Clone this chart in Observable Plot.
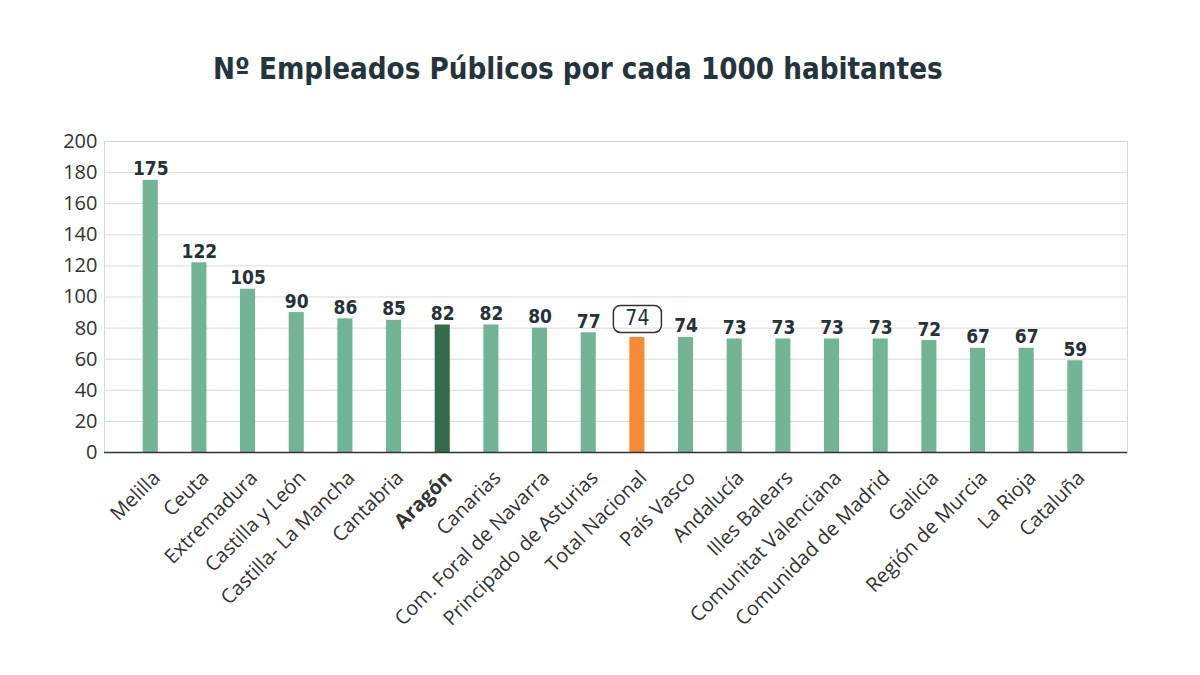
<!DOCTYPE html>
<html><head><meta charset="utf-8">
<script src="https://cdn.jsdelivr.net/npm/d3@7"></script>
<script src="https://cdn.jsdelivr.net/npm/@observablehq/plot@0.6"></script>
<style>
body{margin:0;background:#fff;width:1200px;height:675px;overflow:hidden;font-family:"Open Sans",sans-serif}
#title{height:110px;position:relative}
#title span{position:absolute;left:213px;top:55px;font-family:"DejaVu Sans Condensed","DejaVu Sans",sans-serif;font-weight:bold;font-size:32px;color:#24343c;white-space:nowrap;line-height:1}
</style>
</head><body>
<div id="title"><span>Nº Empleados Públicos por cada 1000 habitantes</span></div>
<div id="chart"></div>
<script>
const categories = ["Melilla","Ceuta","Extremadura","Castilla y León","Castilla- La Mancha","Cantabria","Aragón","Canarias","Com. Foral de Navarra","Principado de Asturias","Total Nacional","País Vasco","Andalucía","Illes Balears","Comunitat Valenciana","Comunidad de Madrid","Galicia","Región de Murcia","La Rioja","Cataluña"];
const values = [175,122,105,90,86,85,82,82,80,77,74,74,73,73,73,73,72,67,67,59];
const highlight = "Aragón";
const national = "Total Nacional";
const yTicks = [0,20,40,60,80,100,120,140,160,180,200];
const colors = {base:"#72b596", highlight:"#336b4c", national:"#f68b33"};

const data = categories.map((c,i)=>({cat:c, value:values[i]}));
const colorOf = d => d.cat===highlight ? colors.highlight : d.cat===national ? colors.national : colors.base;

const plot = Plot.plot({
  width:1200, height:565,
  marginLeft:104, marginRight:73, marginTop:31, marginBottom:223,
  style:{fontFamily:"'Open Sans',sans-serif", color:"#333"},
  x:{domain:categories, paddingInner:0.69, paddingOuter:0, round:false, insetLeft:38.7, insetRight:44.6, axis:null},
  y:{domain:[0,200], axis:null},
  color:{type:"identity"},
  marks:[
    Plot.gridY(yTicks, {stroke:"#d9d9d9", strokeOpacity:1, strokeWidth:1}),
    Plot.frame({stroke:"#d9d9d9"}),
    Plot.axisY(yTicks, {tickSize:0, tickPadding:7, fontSize:20, label:null, fill:"#333"}),
    Plot.barY(data, {x:"cat", y:"value", fill:colorOf}),
    Plot.ruleY([0], {stroke:"#333", strokeWidth:1.5}),
    Plot.text(data.filter(d=>d.cat!==national), {x:"cat", y:"value", text:d=>String(d.value), lineAnchor:"bottom", dy:-5, fontSize:19, fontWeight:"bold", fill:"#263238", fontFamily:"'DejaVu Sans Condensed','DejaVu Sans',sans-serif"}),
    Plot.text(data.filter(d=>d.cat===national), {x:"cat", y:"value", text:d=>String(d.value), lineAnchor:"bottom", dy:-12, fontSize:21, fill:"#263238", fontFamily:"'DejaVu Sans Condensed','DejaVu Sans',sans-serif", className:"national-label"}),
    Plot.text(data.filter(d=>d.cat!==highlight), {x:"cat", text:"cat", frameAnchor:"bottom", textAnchor:"end", lineAnchor:"middle", rotate:-45, dx:6, dy:22, fontSize:20, fill:"#333"}),
    Plot.text(data.filter(d=>d.cat===highlight), {x:"cat", text:"cat", frameAnchor:"bottom", textAnchor:"end", lineAnchor:"middle", rotate:-45, dx:6, dy:22, fontSize:20, fontWeight:"bold", fill:"#333"})
  ]
});
document.getElementById("chart").appendChild(plot);

// rounded box around the national label
const g = plot.querySelector(".national-label");
if (g) {
  const t = g.querySelector("text");
  const bb = t.getBBox();
  const r = document.createElementNS("http://www.w3.org/2000/svg","rect");
  r.setAttribute("x", bb.x - 12);
  r.setAttribute("y", bb.y - 1);
  r.setAttribute("width", bb.width + 24);
  r.setAttribute("height", bb.height + 3);
  r.setAttribute("rx", 7);
  r.setAttribute("fill", "none");
  r.setAttribute("stroke", "#333");
  r.setAttribute("stroke-width", 1.5);
  if (t.getAttribute("transform")) r.setAttribute("transform", t.getAttribute("transform"));
  g.insertBefore(r, t);
}
// fit title width to reference
const span = document.querySelector("#title span");
const w = span.getBoundingClientRect().width;
span.style.fontSize = (32 * 730 / w) + "px";
</script>
</body></html>
